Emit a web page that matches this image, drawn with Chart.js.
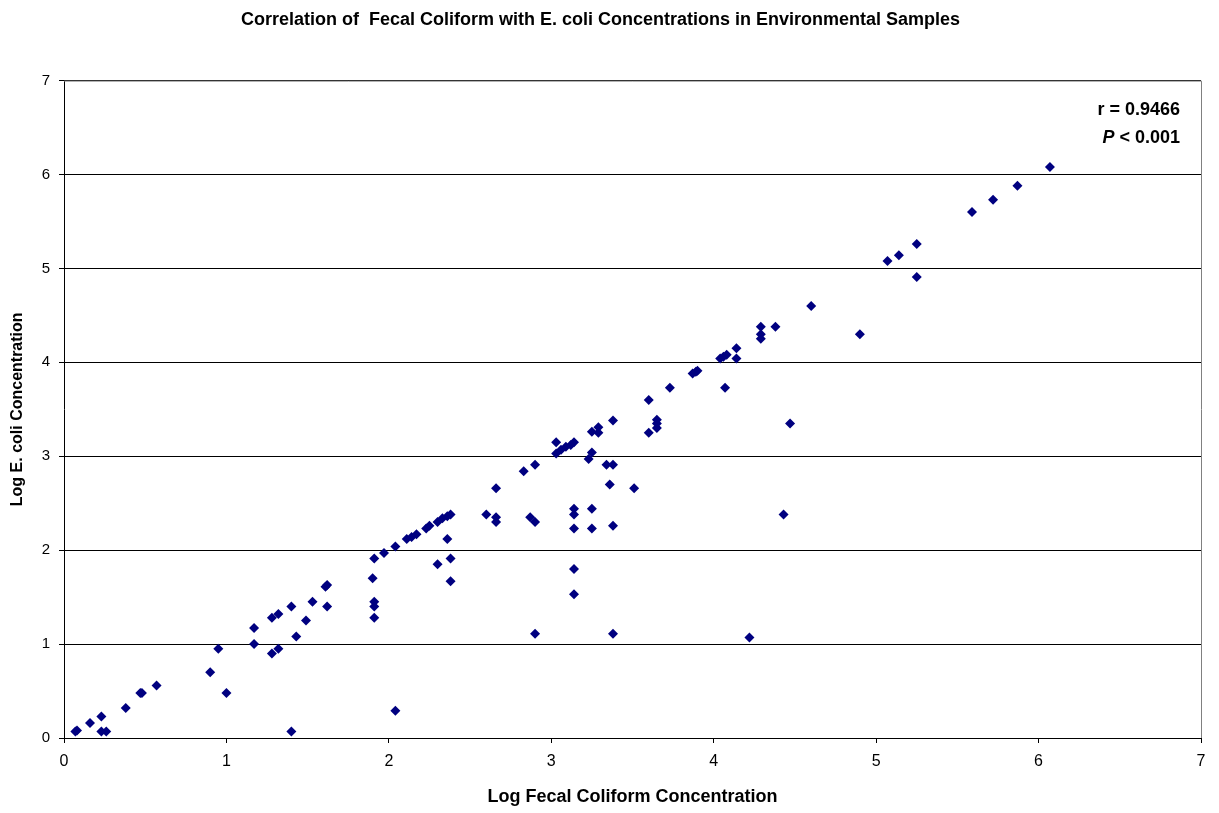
<!DOCTYPE html>
<html>
<head>
<meta charset="utf-8">
<script src="https://cdn.jsdelivr.net/npm/chart.js@4.4.1/dist/chart.umd.min.js"></script>
<style>
  html, body { margin: 0; padding: 0; background: #fff; }
</style>
</head>
<body>
<canvas id="myChart" width="1219" height="813"></canvas>
<script>
const chartTitle = "Correlation of  Fecal Coliform with E. coli Concentrations in Environmental Samples";
const xTitle = "Log Fecal Coliform Concentration";
const yTitle = "Log E. coli Concentration";
const rLabel = "r = 0.9466";
const pLabel = " < 0.001";

// log fecal coliform (x) and log E. coli (y)
const fecalLog = [
  0.07, 0.08, 0.16, 0.23, 0.23, 0.26, 0.38, 0.47, 0.48, 0.57,
  0.90, 0.95, 1.00, 1.17, 1.17, 1.28, 1.32, 1.28, 1.32, 1.40,
  1.40, 1.43, 1.49, 1.53, 1.61, 1.62, 1.62, 1.90, 1.91, 1.91,
  1.91, 1.91, 1.97, 2.04, 2.04, 2.11, 2.14, 2.17, 2.23, 2.25,
  2.30, 2.33, 2.36, 2.38, 2.36, 2.30, 2.38, 2.38, 2.60, 2.66,
  2.66, 2.66, 2.83, 2.90, 2.87, 2.90, 2.90, 3.03, 3.03, 3.06,
  3.09, 3.12, 3.14, 3.14, 3.14, 3.14, 3.14, 3.14, 3.23, 3.25,
  3.25, 3.29, 3.29, 3.38, 3.25, 3.25, 3.34, 3.38, 3.36, 3.38,
  3.38, 3.51, 3.60, 3.60, 3.65, 3.65, 3.65, 3.73, 3.87, 3.89,
  3.90, 4.04, 4.06, 4.08, 4.14, 4.14, 4.07, 4.29, 4.29, 4.29,
  4.38, 4.60, 4.47, 4.43, 4.22, 4.90, 5.07, 5.14, 5.25, 5.25,
  5.59, 5.72, 5.87, 6.07
];
const ecoliLog = [
  0.07, 0.08, 0.16, 0.23, 0.07, 0.07, 0.32, 0.48, 0.48, 0.56,
  0.70, 0.95, 0.48, 1.17, 1.00, 1.28, 1.32, 0.90, 0.95, 1.40,
  0.07, 1.08, 1.25, 1.45, 1.61, 1.63, 1.40, 1.70, 1.91, 1.45,
  1.40, 1.28, 1.97, 2.04, 0.29, 2.12, 2.14, 2.17, 2.23, 2.26,
  2.30, 2.34, 2.36, 2.38, 2.12, 1.85, 1.91, 1.67, 2.38, 2.35,
  2.30, 2.66, 2.84, 2.91, 2.35, 2.30, 1.11, 3.15, 3.03, 3.07,
  3.10, 3.12, 3.15, 2.44, 2.38, 2.23, 1.80, 1.53, 2.97, 3.04,
  3.26, 3.31, 3.25, 3.38, 2.44, 2.23, 2.91, 2.91, 2.70, 2.26,
  1.11, 2.66, 3.60, 3.25, 3.39, 3.35, 3.30, 3.73, 3.88, 3.90,
  3.91, 4.04, 4.06, 4.08, 4.15, 4.04, 3.73, 4.38, 4.30, 4.25,
  4.38, 4.60, 3.35, 2.38, 1.07, 4.30, 5.08, 5.14, 5.26, 4.91,
  5.60, 5.73, 5.88, 6.08
];

const axisMin = 0;
const axisMax = 7;
const fontFamily = "'Liberation Sans', Arial, sans-serif";

const points = fecalLog.map((x, i) => ({ x: x, y: ecoliLog[i] }));

// plot-area border plus the r / P note in the top right corner
const plotExtras = {
  id: "plotExtras",
  beforeDatasetsDraw(chart) {
    const { ctx, chartArea } = chart;
    ctx.save();
    ctx.strokeStyle = "#808080";
    ctx.lineWidth = 1;
    ctx.beginPath();
    ctx.moveTo(chartArea.left, chartArea.top + 0.5);
    ctx.lineTo(chartArea.right + 0.5, chartArea.top + 0.5);
    ctx.lineTo(chartArea.right + 0.5, chartArea.bottom);
    ctx.stroke();
    ctx.restore();
  },
  afterDraw(chart) {
    const ctx = chart.ctx;
    const right = chart.chartArea.right - 21;
    ctx.save();
    ctx.fillStyle = "#000";
    ctx.textAlign = "right";
    ctx.textBaseline = "middle";
    ctx.font = "bold 18px " + fontFamily;
    ctx.fillText(rLabel, right, 110);
    const restW = ctx.measureText(pLabel).width;
    ctx.fillText(pLabel, right, 138);
    ctx.font = "italic bold 18px " + fontFamily;
    ctx.fillText("P", right - restW, 138);
    ctx.restore();
  },
};

const config = {
  type: "scatter",
  data: {
    datasets: [
      {
        label: "samples",
        data: points,
        pointStyle: "rectRot",
        pointRadius: 5,
        pointHoverRadius: 5,
        backgroundColor: "#000080",
        borderColor: "#000080",
        borderWidth: 0,
      },
    ],
  },
  options: {
    responsive: false,
    animation: false,
    layout: { padding: { top: 0, right: 18, bottom: 0, left: 0 } },
    plugins: {
      legend: { display: false },
      tooltip: { enabled: false },
      title: {
        display: true,
        text: chartTitle,
        color: "#000",
        font: { family: fontFamily, size: 18, weight: "bold" },
        padding: { top: 9, bottom: 50 },
      },
    },
    scales: {
      x: {
        type: "linear",
        min: axisMin,
        max: axisMax,
        afterFit: (scale) => { scale.height = 75; },
        ticks: {
          stepSize: 1,
          color: "#000",
          padding: 9,
          maxRotation: 0,
          font: { family: fontFamily, size: 16 },
        },
        grid: {
          drawOnChartArea: false,
          drawTicks: true,
          tickLength: 5,
          color: "#000",
        },
        border: { color: "#000", width: 1 },
        title: {
          display: true,
          text: xTitle,
          color: "#000",
          font: { family: fontFamily, size: 18, weight: "bold" },
          padding: { top: 0, bottom: 5 },
        },
      },
      y: {
        type: "linear",
        min: axisMin,
        max: axisMax,
        afterFit: (scale) => { scale.width = 64; },
        ticks: {
          stepSize: 1,
          color: "#000",
          padding: 9,
          font: { family: fontFamily, size: 15 },
        },
        grid: {
          color: "#000",
          tickLength: 5,
        },
        border: { color: "#000", width: 1 },
        title: {
          display: true,
          text: yTitle,
          color: "#000",
          font: { family: fontFamily, size: 16, weight: "bold" },
          padding: { top: 8, bottom: 0 },
        },
      },
    },
  },
  plugins: [plotExtras],
};

let myChart = new Chart(document.getElementById("myChart"), config);
</script>
</body>
</html>
